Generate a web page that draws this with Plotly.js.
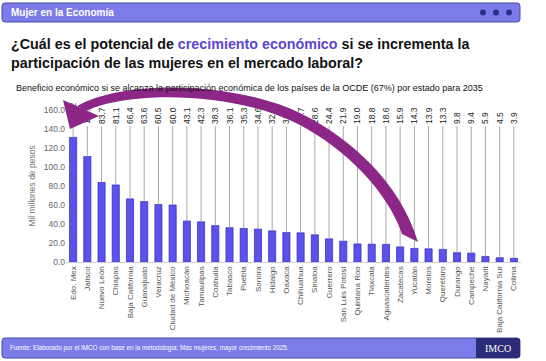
<!DOCTYPE html>
<html>
<head>
<meta charset="utf-8">
<script src="https://cdn.plot.ly/plotly-3.0.1.min.js"></script>
<style>
  html,body{margin:0;padding:0;background:#fff;}
  #chart{width:546px;height:361px;}
</style>
</head>
<body>
<div id="chart"></div>
<script>
// ---- data ----
const states = ["Edo. Mex","Jalisco","Nuevo León","Chiapas","Baja California","Guanajuato","Veracruz","Ciudad de México","Michoacán","Tamaulipas","Coahuila","Tabasco","Puebla","Sonora","Hidalgo","Oaxaca","Chihuahua","Sinaloa","Guerrero","San Luis Potosí","Quintana Roo","Tlaxcala","Aguascalientes","Zacatecas","Yucatán","Morelos","Querétaro","Durango","Campeche","Nayarit","Baja California Sur","Colima"];
const values = [131.2,111.0,83.7,81.1,66.4,63.6,60.5,60.0,43.1,42.3,38.3,36.1,35.3,34.6,32.8,31.0,30.7,28.6,24.4,21.9,19.0,18.8,18.6,15.9,14.3,13.9,13.3,9.8,9.4,5.9,4.5,3.9];
const yTicks = [0,20,40,60,80,100,120,140,160];

const headerText = "Mujer en la Economía";
const subtitleText = "Beneficio económico si se alcanza la participación económica de los países de la OCDE (67%) por estado para 2035";
const sourceText = "Fuente: Elaborado por el IMCO con base en la metodología: Más mujeres, mayor crecimiento 2025.";

// ---- geometry helpers (page pixels -> paper) ----
const W = 546, H = 361;
const M = {l:66, r:25, t:110, b:99};
const PW = W - M.l - M.r, PH = H - M.t - M.b;
const px = x => (x - M.l) / PW;
const py = y => (H - M.b - y) / PH;
function pathPx(str){
  return str.replace(/(-?\d+(?:\.\d+)?)\s+(-?\d+(?:\.\d+)?)/g,
    (m,a,b)=> px(+a).toFixed(5)+','+py(+b).toFixed(5));
}
function roundRect(x0,y0,x1,y1,r){
  return `M ${x0+r} ${y0} L ${x1-r} ${y0} Q ${x1} ${y0} ${x1} ${y0+r} L ${x1} ${y1-r} Q ${x1} ${y1} ${x1-r} ${y1} L ${x0+r} ${y1} Q ${x0} ${y1} ${x0} ${y1-r} L ${x0} ${y0+r} Q ${x0} ${y0} ${x0+r} ${y0} Z`;
}

// leader lines from bar top to label
const lx = [], ly = [];
states.forEach((s,i)=>{ lx.push(s,s,null); ly.push(values[i],143,null); });

const traces = [
  {
    type:'scatter', mode:'lines', x:lx, y:ly,
    line:{color:'#a8a8a8', width:1}, hoverinfo:'skip', showlegend:false, cliponaxis:false
  },
  {
    type:'bar', x:states, y:values,
    marker:{color:'#5a52ea', line:{color:'#3b35c2', width:0.8}},
    width:0.5, showlegend:false
  },
  {
    // transparent holders for the rotated value labels (text placed above a zero-height bar)
    type:'bar', x:states, y:states.map(()=>0.01), base:states.map(()=>142),
    marker:{color:'rgba(0,0,0,0)', line:{width:0}}, width:0.95,
    text:values.map(v=>v.toFixed(1)), textposition:'outside',
    textangle:-90, constraintext:'none',
    textfont:{family:'Liberation Sans, Arial, sans-serif', size:8.5, color:'#222'},
    outsidetextfont:{family:'Liberation Sans, Arial, sans-serif', size:8.5, color:'#222'},
    cliponaxis:false, showlegend:false, hoverinfo:'skip'
  }
];

const arrowBody = "M 77 106 C 122 80 232 80 302 114 C 350 138 400 182 418 242 L 402 234 C 388 192 345 148 298 124 C 235 92 130 90 86 111 Z";
const arrowHead = "M 63 100 L 99 116 L 70 129 Z";

const shapes = [
  {type:'path', xref:'paper', yref:'paper', path:pathPx(roundRect(2,3,520,22,3)),
   fillcolor:'#7b7be9', line:{color:'#4a4aa8', width:1}, layer:'above'},
  ...[483,496,509].map(cx=>({type:'circle', xref:'paper', yref:'paper',
    x0:px(cx-3), x1:px(cx+3), y0:py(15.5), y1:py(9.5),
    fillcolor:'#2e2e86', line:{width:0}, layer:'above'})),
  {type:'path', xref:'paper', yref:'paper', path:pathPx(roundRect(2,338,520,358,3)),
   fillcolor:'#7b7be9', line:{color:'#4a4aa8', width:1}, layer:'above'},
  {type:'path', xref:'paper', yref:'paper', path:pathPx("M 476 338 L 517 338 Q 520 338 520 341 L 520 355 Q 520 358 517 358 L 476 358 Z"),
   fillcolor:'#2b2b78', line:{width:0}, layer:'above'},
  {type:'path', xref:'paper', yref:'paper', path:pathPx(arrowBody),
   fillcolor:'#8c2787', line:{width:0}, layer:'above'},
  {type:'path', xref:'paper', yref:'paper', path:pathPx(arrowHead),
   fillcolor:'#8c2787', line:{width:0}, layer:'above'}
];

const F = 'Liberation Sans, Arial, sans-serif';
const annotations = [
  {xref:'paper', yref:'paper', x:px(9), y:py(12.5), xanchor:'left', yanchor:'middle',
   text:'<b>'+headerText+'</b>', showarrow:false, font:{family:F, size:10, color:'#ffffff'}},
  {xref:'paper', yref:'paper', x:px(9), y:py(53), xanchor:'left', yanchor:'middle', align:'left',
   text:'<b>¿Cuál es el potencial de <span style="color:#5a46d2">crecimiento económico</span> si se incrementa la<br>participación de las mujeres en el mercado laboral?</b>',
   showarrow:false, font:{family:F, size:14.3, color:'#111111'}},
  {xref:'paper', yref:'paper', x:px(14), y:py(88), xanchor:'left', yanchor:'middle',
   text:subtitleText, showarrow:false, font:{family:F, size:9, color:'#111111'}},
  {xref:'paper', yref:'paper', x:px(8), y:py(348), xanchor:'left', yanchor:'middle',
   text:sourceText, showarrow:false, font:{family:F, size:6.3, color:'#ffffff'}},
  {xref:'paper', yref:'paper', x:px(498), y:py(348), xanchor:'center', yanchor:'middle',
   text:'IMCO', showarrow:false, font:{family:'Liberation Serif, Times New Roman, serif', size:10, color:'#ffffff'}}
];

const layout = {
  width:W, height:H,
  margin:{l:M.l, r:M.r, t:M.t, b:M.b, pad:0},
  paper_bgcolor:'#ffffff', plot_bgcolor:'#ffffff',
  barmode:'overlay',
  showlegend:false,
  font:{family:F, color:'#555'},
  xaxis:{
    type:'category', range:[-0.5,31.5], tickangle:-90,
    tickfont:{family:F, size:8, color:'#555'},
    showgrid:false, zeroline:false, showline:true, linecolor:'#d0d0d0', linewidth:1,
    ticks:'', fixedrange:true
  },
  yaxis:{
    range:[0,160], tickvals:yTicks, ticktext:yTicks.map(v=>v.toFixed(1)),
    tickfont:{family:F, size:8.5, color:'#666'},
    showgrid:false, zeroline:false, showline:false, ticks:'',
    title:{text:'Mil millones de pesos', font:{family:F, size:8.5, color:'#777'}, standoff:6},
    fixedrange:true
  },
  shapes:shapes,
  annotations:annotations
};

Plotly.newPlot('chart', traces, layout, {displayModeBar:false, staticPlot:true});
</script>
</body>
</html>
